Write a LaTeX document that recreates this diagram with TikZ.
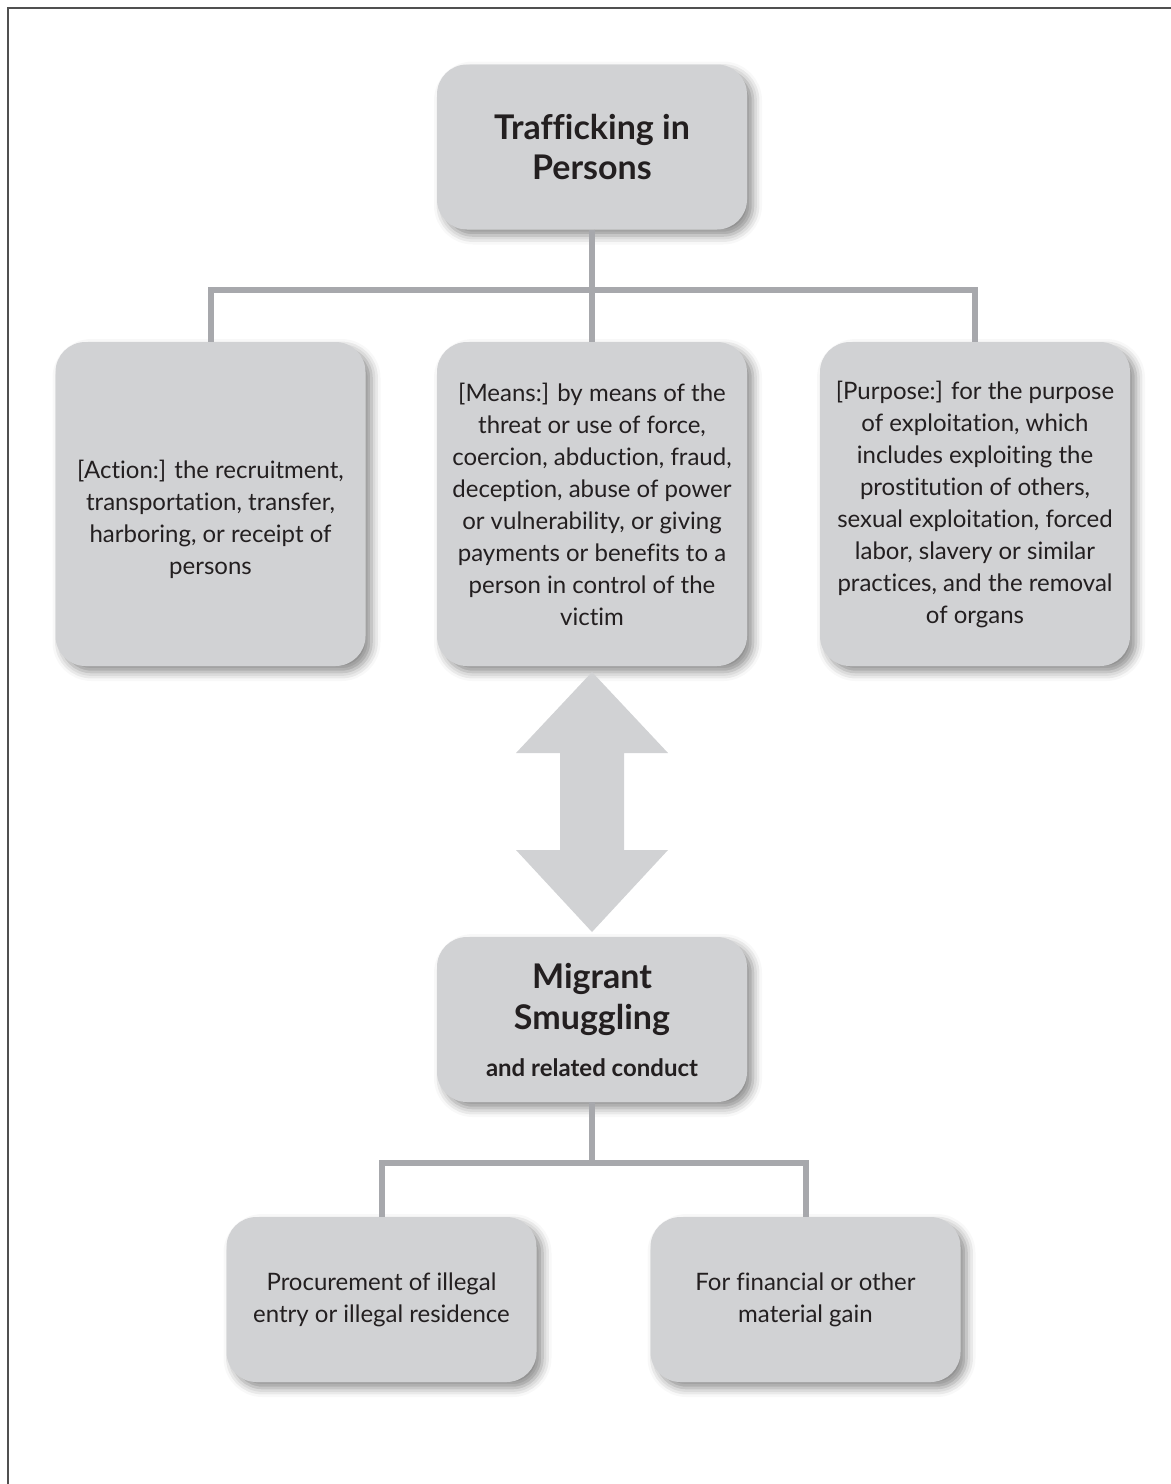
\documentclass[tikz,border=0pt]{standalone}
\usepackage{fontspec}
\setmainfont{Lato}[RawFeature=-liga]
\usetikzlibrary{shadows.blur}
\definecolor{boxgray}{HTML}{D1D2D4}
\definecolor{linkgray}{HTML}{A7A8AC}
\definecolor{ink}{HTML}{231F20}
\definecolor{framegray}{HTML}{505050}
\tikzset{
  box/.style={rounded corners=15pt, fill=boxgray, text=ink, align=center, inner sep=0pt,
    minimum width=155pt,
    blur shadow={shadow xshift=3pt, shadow yshift=-3pt, shadow blur radius=4.5pt, shadow opacity=45},
    font=\fontsize{12}{16}\selectfont},
  tallbox/.style={box, minimum height=162pt},
  flatbox/.style={box, minimum height=82.5pt},
  headbox/.style={flatbox, font=\fontsize{17}{20.5}\selectfont\bfseries},
  link/.style={draw=linkgray, line width=3pt, line join=miter}
}
\begin{document}
\begin{tikzpicture}[x=.5pt,y=-.5pt]
\useasboundingbox (0,0) rectangle (1171,1484);
\draw[framegray, line width=1.3pt] (8,1484) -- (8,8) -- (1171,8);
% trafficking
\node[headbox] (top) at (592,147) {Trafficking in\\Persons};
\node[tallbox] (action) at (210.5,504) {\rule{0pt}{25pt}[Action:] the recruitment,\\transportation, transfer,\\harboring, or receipt of\\persons};
\node[tallbox] (means) at (592,504) {[Means:] by means of the\\threat or use of force,\\coercion, abduction, fraud,\\deception, abuse of power\\or vulnerability, or giving\\payments or benefits to a\\person in control of the\\victim};
\node[tallbox] (purpose) at (975,504) {[Purpose:] for the purpose\\of exploitation, which\\includes exploiting the\\prostitution of others,\\sexual exploitation, forced\\labor, slavery or similar\\practices, and the removal\\of organs};
\draw[link] (top.south) -- ++(0,60) -| (action.north);
\draw[link] (top.south) -- ++(0,60) -| (purpose.north);
\draw[link] (top.south) -- (means.north);
% double arrow
\fill[boxgray] (592,672) -- (668,753) -- (624,753) -- (624,850) -- (668,850) -- (592,932)
  -- (516,850) -- (560,850) -- (560,753) -- (516,753) -- cycle;
% smuggling
\node[headbox] (smuggle) at (592,1019.5) {Migrant\\Smuggling\\[3pt]{\fontsize{12}{16}\selectfont and related conduct}};
\node[flatbox] (procure) at (381.5,1299.5) {Procurement of illegal\\entry or illegal residence};
\node[flatbox] (gain) at (805.5,1299.5) {For financial or other\\material gain};
\draw[link] (smuggle.south) -- ++(0,61) -| (procure.north);
\draw[link] (smuggle.south) -- ++(0,61) -| (gain.north);
\end{tikzpicture}
\end{document}
